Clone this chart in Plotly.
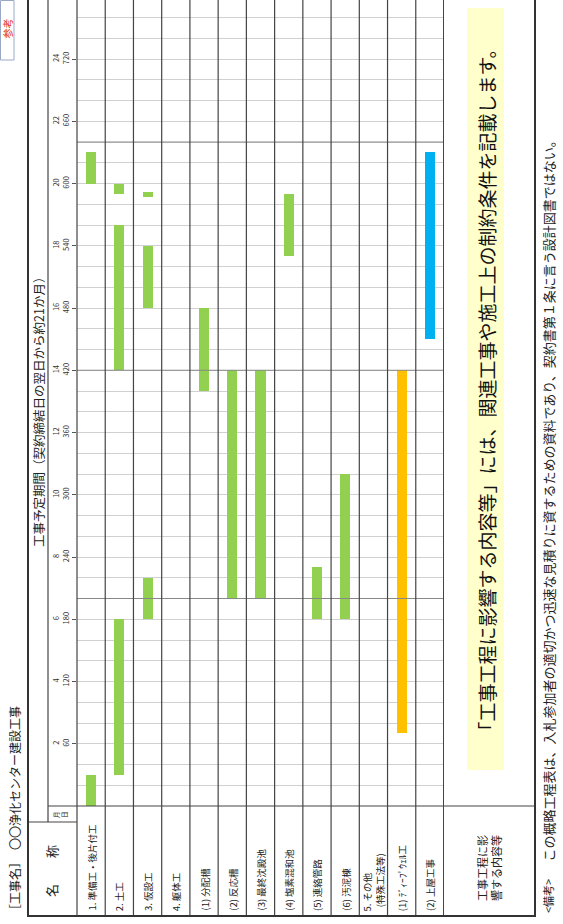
import plotly.graph_objects as go

W, H = 563, 924
FONT = "Noto Sans CJK JP"

# ---------------- data ----------------
categories = [
    "1. 準備工・後片付工", "2. 土工", "3. 仮設工", "4. 躯体工",
    "(1) 分配槽", "(2) 反応槽", "(3) 最終沈殿池", "(4) 塩素混和池",
    "(5) 連絡管路", "(6) 汚泥棟", "5. その他<br>  (特殊工法等)",
    "(1) ﾃﾞｨｰﾌﾟｳｪﾙ工", "(2) 上屋工事",
]

green_cat = ["1. 準備工・後片付工", "1. 準備工・後片付工",
             "2. 土工", "2. 土工", "2. 土工",
             "3. 仮設工", "3. 仮設工", "3. 仮設工",
             "(1) 分配槽", "(2) 反応槽", "(3) 最終沈殿池",
             "(4) 塩素混和池", "(5) 連絡管路", "(6) 汚泥棟"]
green_start = [0, 600, 30, 420, 590, 180, 480, 587, 400, 200, 200, 530, 180, 180]
green_end = [30, 630, 180, 560, 600, 220, 540, 592, 480, 420, 420, 590, 230, 320]

orange_cat = ["(1) ﾃﾞｨｰﾌﾟｳｪﾙ工"]
orange_start = [70]
orange_end = [420]

blue_cat = ["(2) 上屋工事"]
blue_start = [450]
blue_end = [630]

tick_days = [60, 120, 180, 240, 300, 360, 420, 480, 540, 600, 660, 720]
tick_months = [2, 4, 6, 8, 10, 12, 14, 16, 18, 20, 22, 24]
dark_grid_days = [200, 420, 640]

# ---------------- helpers ----------------
def px(x):
    return x / W

def py(y):
    return 1 - y / H

PLOT_L, PLOT_R, PLOT_T, PLOT_B = 77, 444, 0, 806
Y_MAX = 806 / (747 / 720)

fig = go.Figure()

def add_bars(cats, starts, ends, color):
    fig.add_trace(go.Bar(
        x=cats, y=[e - s for s, e in zip(starts, ends)], base=starts,
        width=0.36, marker=dict(color=color, line=dict(width=0)),
        showlegend=False, hoverinfo="skip",
    ))

add_bars(green_cat, green_start, green_end, "#92D050")
add_bars(orange_cat, orange_start, orange_end, "#FFC000")
add_bars(blue_cat, blue_start, blue_end, "#00B0F0")

shapes = []
LINE = "#444444"

# yellow note box
shapes.append(dict(type="rect", xref="paper", yref="paper",
                   x0=px(467), x1=px(504), y0=py(770), y1=py(8),
                   fillcolor="#FFFFCC", line=dict(width=0), layer="below"))
# darker horizontal lines
for d in dark_grid_days:
    shapes.append(dict(type="line", xref="paper", yref="y",
                       x0=px(PLOT_L), x1=px(PLOT_R), y0=d, y1=d,
                       line=dict(color="#888888", width=1)))
# column dividers
n = len(categories)
for i in range(n):
    shapes.append(dict(type="line", xref="x", yref="paper",
                       x0=i + 0.5, x1=i + 0.5, y0=py(916), y1=1.01,
                       line=dict(color=LINE, width=2 if i == n - 1 else 1.2)))
# left plot edge
shapes.append(dict(type="line", xref="paper", yref="paper",
                   x0=px(PLOT_L), x1=px(PLOT_L), y0=py(916), y1=1.01,
                   line=dict(color=LINE, width=1.2)))
# tick label column separator
shapes.append(dict(type="line", xref="paper", yref="paper",
                   x0=px(48), x1=px(48), y0=py(822), y1=1.01,
                   line=dict(color=LINE, width=1.2)))
# header separators
shapes.append(dict(type="line", xref="paper", yref="paper",
                   x0=px(48), x1=px(535), y0=py(806), y1=py(806),
                   line=dict(color=LINE, width=1.2)))
shapes.append(dict(type="line", xref="paper", yref="paper",
                   x0=px(28), x1=px(77), y0=py(822), y1=py(822),
                   line=dict(color=LINE, width=1.2)))
# outer frame
shapes.append(dict(type="rect", xref="paper", yref="paper",
                   x0=px(28), x1=px(535), y0=py(916), y1=1.01,
                   line=dict(color="#333333", width=2)))
# red "参考" box
shapes.append(dict(type="rect", xref="paper", yref="paper",
                   x0=px(0.5), x1=px(14), y0=py(60), y1=py(0.5),
                   line=dict(color="#9aa8c8", width=1)))

ann = []

def text(x, y, s, size, color="#222222", angle=-90, xanchor="center",
         yanchor="middle", align="center", xref="paper"):
    ann.append(dict(x=x, y=y, xref=xref, yref="paper", text=s, showarrow=False,
                    textangle=angle, xanchor=xanchor, yanchor=yanchor,
                    align=align, font=dict(family=FONT, size=size, color=color)))

# category labels
for i, c in enumerate(categories):
    text(i, py(913), c, 9.5, xref="x", yanchor="bottom", align="left")

text(px(14), py(918), "［工事名］　〇〇浄化センター建設工事", 12, yanchor="bottom")
text(px(7.5), py(28), "参考", 10, color="#e03030")
text(px(38), py(409), "工事予定期間（契約締結日の翌日から約21か月）", 12.5)
text(px(60), py(814), "月<br>日", 6.5)
text(px(51), py(871), "名　　称", 13)
text(px(489), py(868), "工事工程に影<br>響する内容等", 11)
text(px(485.5), py(390),
     "「工事工程に影響する内容等」には、関連工事や施工上の制約条件を記載します。", 19,
     color="#111111")
text(px(548), py(915), "<備考>", 11, yanchor="bottom")
text(px(548), py(864),
     "この概略工程表は、入札参加者の適切かつ迅速な見積りに資するための資料であり、契約書第１条に言う設計図書ではない。",
     13, yanchor="bottom")

fig.update_layout(
    width=W, height=H, autosize=False,
    margin=dict(l=0, r=0, t=0, b=0),
    paper_bgcolor="white", plot_bgcolor="white",
    barmode="overlay", bargap=0,
    shapes=shapes, annotations=ann,
    font=dict(family=FONT),
)
fig.update_xaxes(
    type="category", categoryorder="array", categoryarray=categories,
    range=[-0.5, n - 0.5], domain=[px(PLOT_L), px(PLOT_R)],
    showticklabels=False, showgrid=False, zeroline=False, ticks="",
)
fig.update_yaxes(
    range=[0, Y_MAX], domain=[py(PLOT_B), py(PLOT_T)],
    tickmode="array", tickvals=tick_days,
    ticktext=[f"{m}<br>{d}" for m, d in zip(tick_months, tick_days)],
    tickangle=-90, tickfont=dict(family=FONT, size=7.5, color="#333333"),
    ticks="outside", ticklen=4, tickcolor="#555555",
    showgrid=True, gridcolor="#d0d0d0", gridwidth=1,
    minor=dict(dtick=20, tick0=0, showgrid=True, gridcolor="#d0d0d0", ticks=""),
    zeroline=False, showline=False,
)

fig.write_html(
    "out.html",
    config={"displayModeBar": False},
    post_script="document.body.style.margin='0px';document.body.style.overflow='hidden';",
)
